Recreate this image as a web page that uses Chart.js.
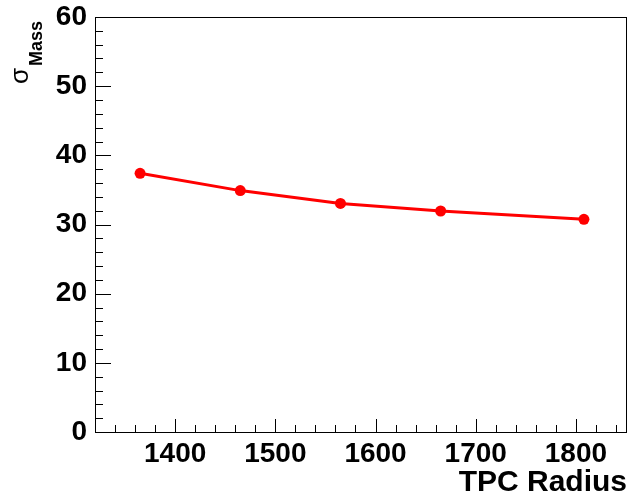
<!DOCTYPE html>
<html>
<head>
<meta charset="utf-8">
<script src="https://cdn.jsdelivr.net/npm/chart.js@4/dist/chart.umd.min.js"></script>
<style>
  html, body { margin: 0; padding: 0; background: #fff; }
  #wrap { width: 628px; height: 498px; }
</style>
</head>
<body>
<div id="wrap"><canvas id="sigmaChart" width="628" height="498"></canvas></div>
<script>
// data
const radius = [1365, 1465, 1565, 1665, 1808];
const sigmaMass = [37.4, 34.9, 33.05, 31.95, 30.75];
const xTicks = [1400, 1500, 1600, 1700, 1800];
const yTicks = [0, 10, 20, 30, 40, 50, 60];

const FONT = "'Liberation Sans', Arial, Helvetica, sans-serif";

// ROOT style frame with ticks pointing inward + axis titles
const rootFrame = {
  id: "rootFrame",
  afterDraw(chart) {
    const ctx = chart.ctx;
    const a = chart.chartArea;
    const xs = chart.scales.x, ys = chart.scales.y;
    ctx.save();
    ctx.strokeStyle = "#000";
    ctx.lineWidth = 1;
    ctx.strokeRect(Math.round(a.left) + 0.5, Math.round(a.top) + 0.5,
      Math.round(a.right - a.left) - 1, Math.round(a.bottom - a.top));

    ctx.beginPath();
    for (let v = 1320; v <= xs.max; v += 20) {
      const px = Math.round(xs.getPixelForValue(v)) + 0.5;
      const len = v % 100 === 0 ? 13 : 7;
      ctx.moveTo(px, a.bottom);
      ctx.lineTo(px, a.bottom - len);
    }
    for (let v = 0; v <= ys.max; v += 2) {
      const py = Math.round(ys.getPixelForValue(v)) + 0.5;
      const len = v % 10 === 0 ? 16 : 8;
      ctx.moveTo(a.left, py);
      ctx.lineTo(a.left + len, py);
    }
    ctx.stroke();

    ctx.fillStyle = "#000";
    ctx.textBaseline = "alphabetic";

    // x title
    ctx.font = "bold 30px " + FONT;
    ctx.textAlign = "right";
    ctx.fillText("TPC Radius", 627, 491);

    // y title: sigma with "Mass" subscript, rotated
    ctx.textAlign = "left";
    ctx.translate(28, 84);
    ctx.rotate(-Math.PI / 2);
    ctx.font = "26px " + FONT;
    ctx.fillText("σ", 0, 0);
    const w = ctx.measureText("σ").width;
    ctx.font = "bold 18px " + FONT;
    ctx.fillText("Mass", w + 2, 14);
    ctx.restore();
  }
};

new Chart(document.getElementById("sigmaChart"), {
  type: "scatter",
  data: {
    datasets: [{
      data: radius.map((r, i) => ({ x: r, y: sigmaMass[i] })),
      showLine: true,
      borderColor: "#ff0000",
      backgroundColor: "#ff0000",
      borderWidth: 3,
      pointRadius: 5.5,
      pointBorderWidth: 0
    }]
  },
  options: {
    responsive: false,
    animation: false,
    layout: { autoPadding: false, padding: { top: 17, right: 1, left: 0, bottom: 0 } },
    plugins: { legend: { display: false }, tooltip: { enabled: false } },
    scales: {
      x: {
        type: "linear",
        min: 1320,
        max: 1851,
        afterBuildTicks: s => { s.ticks = xTicks.map(v => ({ value: v })); },
        afterFit: s => { s.height = 66; s.paddingLeft = 0; s.paddingRight = 0; },
        grid: { display: false, drawTicks: false },
        border: { display: false },
        ticks: {
          color: "#000",
          padding: 5,
          maxRotation: 0,
          callback: v => String(v),
          font: { family: FONT, size: 28, weight: "bold" }
        }
      },
      y: {
        min: 0,
        max: 60,
        afterBuildTicks: s => { s.ticks = yTicks.map(v => ({ value: v })); },
        afterFit: s => { s.width = 95; s.paddingTop = 0; s.paddingBottom = 0; },
        grid: { display: false, drawTicks: false },
        border: { display: false },
        ticks: {
          color: "#000",
          padding: 8,
          callback: v => String(v),
          font: { family: FONT, size: 28, weight: "bold" }
        }
      }
    }
  },
  plugins: [rootFrame]
});
</script>
</body>
</html>
